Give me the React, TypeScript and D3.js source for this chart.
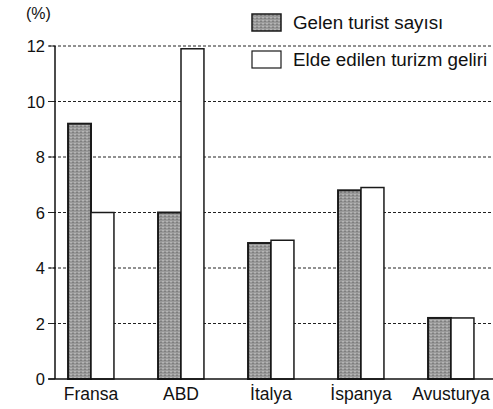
import React from "react";
import * as d3 from "d3";

const categories = ["Fransa", "ABD", "İtalya", "İspanya", "Avusturya"];
const touristCounts = [9.2, 6.0, 4.9, 6.8, 2.2];
const tourismIncome = [6.0, 11.9, 5.0, 6.9, 2.2];
const yTicks = [0, 2, 4, 6, 8, 10, 12];
const seriesNames = ["Gelen turist sayısı", "Elde edilen turizm geliri"];

const W = 493;
const H = 409;

export default function App() {
  const x = d3.scaleBand<string>().domain(categories).range([46, 496]).paddingInner(0.49).paddingOuter(0.245);
  const y = d3.scaleLinear().domain([0, 12]).range([379, 46]);
  const bw = x.bandwidth() / 2;
  const font = "'Liberation Sans', Arial, Helvetica, sans-serif";
  return (
    <svg width={W} height={H} style={{ position: "absolute", left: 0, top: 0, background: "#fff" }}>
      <defs>
        <pattern id="tex" width="4" height="3" patternUnits="userSpaceOnUse">
          <rect width="4" height="3" fill="#999" />
          <rect x="0" y="0" width="2" height="1" fill="#7e7e7e" />
          <rect x="2" y="2" width="2" height="1" fill="#b5b5b5" />
        </pattern>
      </defs>
      {yTicks.slice(1).map((t) => (
        <line key={t} x1={48} x2={W} y1={y(t)} y2={y(t)} stroke="#222" strokeWidth={1} strokeDasharray="3,2" />
      ))}
      {yTicks.map((t) => (
        <g key={"l" + t}>
          <line x1={49} x2={55} y1={y(t)} y2={y(t)} stroke="#222" strokeWidth={1} />
          <text x={45} y={y(t) + 6} textAnchor="end" fontSize={16.5} fontFamily={font} fill="#111">{t}</text>
        </g>
      ))}
      <text x={26} y={19} fontSize={16} fontFamily={font} fill="#111">(%)</text>
      {categories.map((c, i) => {
        const x0 = x(c) as number;
        return (
          <g key={c}>
            <rect x={x0} y={y(touristCounts[i])} width={bw} height={y(0) - y(touristCounts[i])} fill="url(#tex)" stroke="#1a1a1a" strokeWidth={2} />
            <rect x={x0 + bw} y={y(tourismIncome[i])} width={bw} height={y(0) - y(tourismIncome[i])} fill="#fff" stroke="#1a1a1a" strokeWidth={1.5} />
            <text x={x0 + bw} y={400} textAnchor="middle" fontSize={17.5} fontFamily={font} fill="#111">{c}</text>
          </g>
        );
      })}
      <line x1={55} x2={55} y1={y(12)} y2={y(0)} stroke="#111" strokeWidth={1.5} />
      <line x1={48} x2={W} y1={y(0)} y2={y(0)} stroke="#111" strokeWidth={1.5} />
      <rect x={252} y={14} width={29} height={17} fill="url(#tex)" stroke="#1a1a1a" strokeWidth={1.5} />
      <text x={293} y={29} fontSize={18.8} fontFamily={font} fill="#111">{seriesNames[0]}</text>
      <rect x={252} y={51} width={29} height={17} fill="#fff" stroke="#1a1a1a" strokeWidth={1.2} />
      <text x={293} y={66} fontSize={18.8} fontFamily={font} fill="#111">{seriesNames[1]}</text>
    </svg>
  );
}
